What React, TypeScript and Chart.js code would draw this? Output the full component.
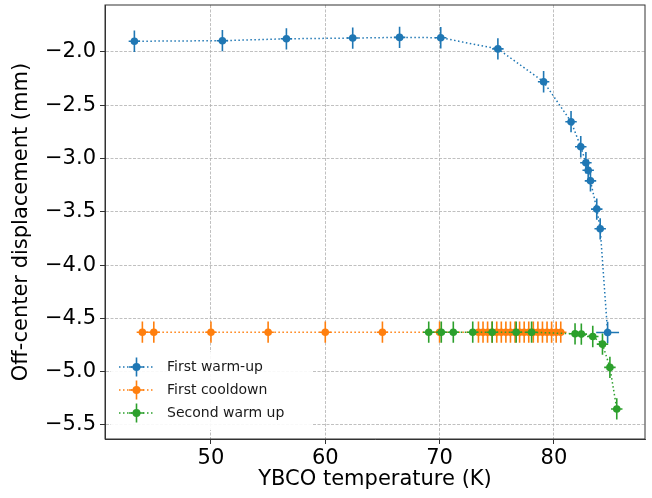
import React, { useEffect, useRef } from "react";
import { Chart, registerables } from "chart.js";

Chart.register(...registerables);

// ---- Data ----
const warmup1Temp = [43.3, 51.0, 56.6, 62.4, 66.5, 70.1, 75.1, 79.1, 81.5, 82.35, 82.8, 83.0, 83.2, 83.75, 84.05, 84.7];
const warmup1Disp = [-1.9, -1.895, -1.877, -1.87, -1.864, -1.867, -1.972, -2.28, -2.655, -2.89, -3.04, -3.11, -3.21, -3.475, -3.66, -4.633];
const warmup1XErr = [0.5, 0.5, 0.5, 0.5, 0.5, 0.5, 0.5, 0.5, 0.5, 0.5, 0.5, 0.5, 0.5, 0.5, 0.5, 1.0];
const warmup1YErr = [0.1, 0.1, 0.1, 0.1, 0.1, 0.1, 0.1, 0.1, 0.1, 0.1, 0.1, 0.1, 0.1, 0.1, 0.1, 0.1];

const cooldownTemp = [44.0, 45.0, 50.0, 55.0, 60.0, 65.0, 70.0, 73.4, 73.8, 74.2, 74.6, 75.0, 75.4, 75.8, 76.2, 76.6, 77.0, 77.4, 77.8, 78.2, 78.6, 79.0, 79.4, 79.8, 80.2, 80.6];
const cooldownDisp = [-4.63, -4.63, -4.63, -4.63, -4.63, -4.63, -4.63, -4.63, -4.63, -4.63, -4.63, -4.63, -4.63, -4.63, -4.63, -4.63, -4.63, -4.63, -4.63, -4.63, -4.63, -4.63, -4.63, -4.63, -4.63, -4.63];

const warmup2Temp = [69.05, 70.15, 71.2, 72.9, 74.6, 76.7, 78.05, 81.85, 82.4, 83.4, 84.25, 84.9, 85.5];
const warmup2Disp = [-4.63, -4.63, -4.63, -4.63, -4.63, -4.63, -4.63, -4.645, -4.648, -4.67, -4.742, -4.96, -5.35];

const seriesLabels = ["First warm-up", "First cooldown", "Second warm up"];
const seriesColors = ["#1f77b4", "#ff7f0e", "#2ca02c"];
const commonXErr = 0.5;
const commonYErr = 0.1;

const xTicks = [50, 60, 70, 80];
const yTicks = [-5.5, -5.0, -4.5, -4.0, -3.5, -3.0, -2.5, -2.0];
const xRange = [40.73, 87.97];
const yRange = [-5.632, -1.56];

const FONT = "'DejaVu Sans', sans-serif";

const errorBarPlugin = {
  id: "errorBars",
  beforeDatasetDraw(chart: any, args: any) {
    const ds = chart.data.datasets[args.index];
    const ctx = chart.ctx;
    const xs = chart.scales.x;
    const ys = chart.scales.y;
    ctx.save();
    ctx.strokeStyle = ds.borderColor;
    ctx.lineWidth = 1.6;
    ctx.setLineDash([]);
    ds.data.forEach((p: any, i: number) => {
      const xe = ds.xErr[i];
      const ye = ds.yErr[i];
      const px = xs.getPixelForValue(p.x);
      const py = ys.getPixelForValue(p.y);
      ctx.beginPath();
      ctx.moveTo(xs.getPixelForValue(p.x - xe), py);
      ctx.lineTo(xs.getPixelForValue(p.x + xe), py);
      ctx.moveTo(px, ys.getPixelForValue(p.y - ye));
      ctx.lineTo(px, ys.getPixelForValue(p.y + ye));
      ctx.stroke();
    });
    ctx.restore();
  },
};

const framePlugin = {
  id: "frameAndLegend",
  afterDraw(chart: any) {
    const ctx = chart.ctx;
    const a = chart.chartArea;
    ctx.save();
    ctx.strokeStyle = "#333";
    ctx.lineWidth = 1;
    ctx.setLineDash([]);
    ctx.strokeRect(a.left, a.top, a.right - a.left, a.bottom - a.top);

    // legend
    const boxL = 111, boxT = 352, boxW = 202, boxH = 78;
    ctx.fillStyle = "rgba(255,255,255,0.9)";
    ctx.fillRect(boxL, boxT, boxW, boxH);
    const rows = [367, 390, 413];
    chart.data.datasets.forEach((ds: any, i: number) => {
      const y = rows[i];
      const color = ds.borderColor;
      ctx.strokeStyle = color;
      ctx.lineWidth = 1.5;
      ctx.setLineDash([1.5, 2.5]);
      ctx.beginPath();
      ctx.moveTo(119, y);
      ctx.lineTo(153, y);
      ctx.stroke();
      ctx.setLineDash([]);
      ctx.lineWidth = 1.6;
      ctx.beginPath();
      ctx.moveTo(129, y);
      ctx.lineTo(144, y);
      ctx.moveTo(136.5, y - 9.5);
      ctx.lineTo(136.5, y + 9.5);
      ctx.stroke();
      ctx.fillStyle = color;
      ctx.beginPath();
      ctx.arc(136.5, y, 4, 0, Math.PI * 2);
      ctx.fill();
      ctx.fillStyle = "#1a1a1a";
      ctx.font = `14px ${FONT}`;
      ctx.textBaseline = "middle";
      ctx.textAlign = "left";
      ctx.fillText(ds.label, 167, y + 0.5);
    });
    ctx.restore();
  },
};

const fmt = (v: number) => v.toFixed(1).replace("-", "\u2212");

export default function App() {
  const ref = useRef<HTMLCanvasElement | null>(null);
  useEffect(() => {
    document.body.style.margin = "0";
    const canvas = ref.current;
    if (!canvas) return;
    const mk = (xsArr: number[], ysArr: number[]) => xsArr.map((x, i) => ({ x, y: ysArr[i] }));
    const makeDs = (i: number, data: any[], xErr: number[], yErr: number[], order: number) => ({
      label: seriesLabels[i],
      data,
      xErr,
      yErr,
      order,
      showLine: true,
      borderColor: seriesColors[i],
      backgroundColor: seriesColors[i],
      borderWidth: 1.5,
      borderDash: [1.5, 2.5],
      pointRadius: 3.8,
      pointBorderWidth: 0,
      pointBackgroundColor: seriesColors[i],
      pointHoverRadius: 3.8,
      tension: 0,
    });
    const chart = new Chart(canvas, {
      type: "scatter",
      data: {
        datasets: [
          makeDs(0, mk(warmup1Temp, warmup1Disp), warmup1XErr, warmup1YErr, 3),
          makeDs(1, mk(cooldownTemp, cooldownDisp), cooldownTemp.map(() => commonXErr), cooldownTemp.map(() => commonYErr), 2),
          makeDs(2, mk(warmup2Temp, warmup2Disp), warmup2Temp.map(() => commonXErr), warmup2Temp.map(() => commonYErr), 1),
        ] as any,
      },
      options: {
        animation: false,
        responsive: false,
        events: [],
        layout: { padding: { top: 5, right: 7, left: 0, bottom: 0 } },
        plugins: { legend: { display: false }, tooltip: { enabled: false } },
        scales: {
          x: {
            type: "linear",
            min: xRange[0],
            max: xRange[1],
            afterBuildTicks: (s: any) => {
              s.ticks = xTicks.map((v) => ({ value: v }));
            },
            afterFit: (s: any) => {
              s.height = 59;
              s.paddingLeft = 0;
              s.paddingRight = 0;
            },
            ticks: {
              color: "#000",
              font: { family: FONT, size: 21 },
              padding: 2,
              maxRotation: 0,
              autoSkip: false,
              callback: (v: any) => String(v),
            },
            grid: { color: "#b0b0b0", lineWidth: 0.8, tickColor: "#333", tickLength: 5, tickWidth: 1, tickBorderDash: [] },
            border: { display: true, color: "#333", width: 1, dash: [3, 1.5] },
            title: {
              display: true,
              text: "YBCO temperature (K)",
              color: "#000",
              font: { family: FONT, size: 21 },
              padding: { top: 0, bottom: 6 },
            },
          },
          y: {
            type: "linear",
            min: yRange[0],
            max: yRange[1],
            afterBuildTicks: (s: any) => {
              s.ticks = yTicks.map((v) => ({ value: v }));
            },
            afterFit: (s: any) => {
              s.width = 105;
              s.paddingTop = 0;
              s.paddingBottom = 0;
            },
            ticks: {
              color: "#000",
              font: { family: FONT, size: 21 },
              padding: 4,
              autoSkip: false,
              callback: (v: any) => fmt(Number(v)),
            },
            grid: { color: "#b0b0b0", lineWidth: 0.8, tickColor: "#333", tickLength: 5, tickWidth: 1, tickBorderDash: [] },
            border: { display: true, color: "#333", width: 1, dash: [3, 1.5] },
            title: {
              display: true,
              text: "Off-center displacement (mm)",
              color: "#000",
              font: { family: FONT, size: 21 },
              padding: { top: 9, bottom: 0 },
            },
          },
        },
      },
      plugins: [errorBarPlugin, framePlugin],
    });
    return () => chart.destroy();
  }, []);
  return (
    <div style={{ width: 652, height: 498 }}>
      <canvas ref={ref} width={652} height={498} style={{ display: "block" }} />
    </div>
  );
}
